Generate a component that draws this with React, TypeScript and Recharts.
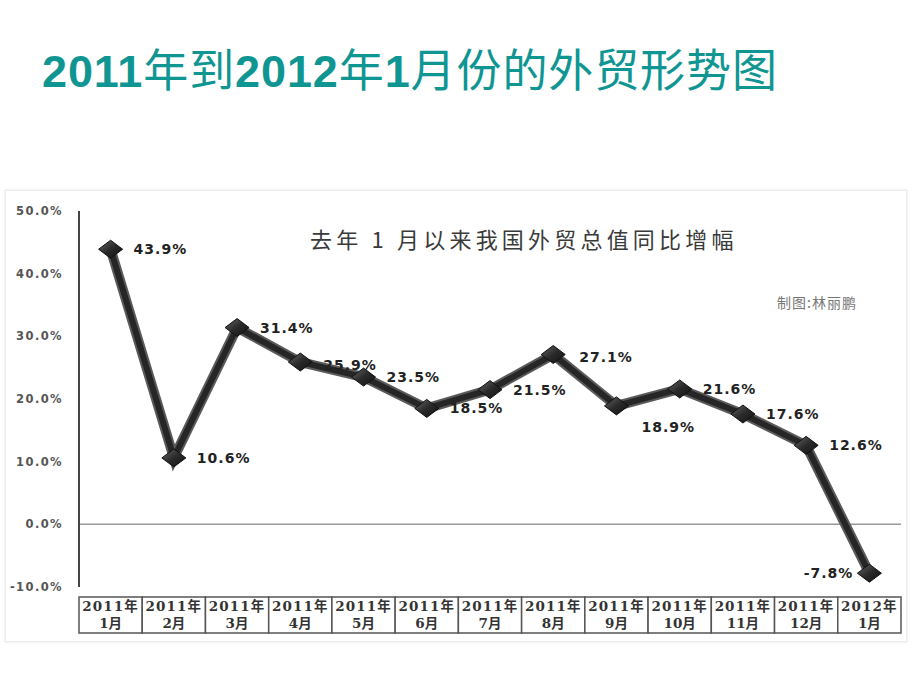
import { LineChart, Line, XAxis, YAxis, ReferenceLine, LabelList } from 'recharts';

const years = ['2011年', '2011年', '2011年', '2011年', '2011年', '2011年', '2011年', '2011年', '2011年', '2011年', '2011年', '2011年', '2012年'];
const months = ['1月', '2月', '3月', '4月', '5月', '6月', '7月', '8月', '9月', '10月', '11月', '12月', '1月'];
const growth = [43.9, 10.6, 31.4, 25.9, 23.5, 18.5, 21.5, 27.1, 18.9, 21.6, 17.6, 12.6, -7.8];
const yTicks = [-10, 0, 10, 20, 30, 40, 50];

const pageTitle = '2011年到2012年1月份的外贸形势图';
const chartTitle = '去年 1 月以来我国外贸总值同比增幅';
const credit = '制图:林丽鹏';

const data = growth.map((v, i) => ({ key: years[i] + months[i], value: v }));

const W = 920;
const H = 690;
const PLOT_LEFT = 79;
const PLOT_RIGHT = 901;
const CELL = (PLOT_RIGHT - PLOT_LEFT) / growth.length;
const X_AXIS_H = 50;

function TitleText({ text }: { text: string }) {
  // digits in bold latin, hanzi in regular weight
  const parts = text.match(/(\d+|\D+)/g) || [];
  return (
    <>
      {parts.map((p, i) =>
        /\d/.test(p) ? (
          <span key={i} style={{ fontFamily: '"Liberation Sans", Arial, sans-serif', fontWeight: 700 }}>{p}</span>
        ) : (
          <span key={i} style={{ fontFamily: '"Noto Sans CJK SC", sans-serif', fontWeight: 400 }}>{p}</span>
        )
      )}
    </>
  );
}

function YTick(props: any) {
  const { x, y, payload } = props;
  return (
    <text x={x - 8} y={y} dy={4} textAnchor="end" fontSize={11.5} fontWeight="bold" fill="#555"
      letterSpacing={1.4} fontFamily='"DejaVu Sans", sans-serif'>
      {payload.value.toFixed(1)}%
    </text>
  );
}

function XTick(props: any) {
  const { x, y, payload } = props;
  const i = payload.index;
  return (
    <g>
      <rect x={x - CELL / 2} y={y} width={CELL} height={36} fill="#fff" stroke="#555" strokeWidth={1.5} />
      <text x={x} y={y + 14} textAnchor="middle" fontSize={13.5} fontWeight="bold" fill="#333" letterSpacing={1.1}
        fontFamily='"DejaVu Serif", "Noto Sans CJK SC", serif'>
        {years[i]}
      </text>
      <text x={x} y={y + 31} textAnchor="middle" fontSize={13.5} fontWeight="bold" fill="#333"
        fontFamily='"DejaVu Serif", "Noto Sans CJK SC", serif'>
        {months[i]}
      </text>
    </g>
  );
}

function Diamond(props: any) {
  const { cx, cy } = props;
  if (cx == null || cy == null) return null;
  return (
    <polygon
      points={`${cx - 12},${cy} ${cx},${cy - 9} ${cx + 12},${cy} ${cx},${cy + 9}`}
      fill="url(#diamondFill)" stroke="#111" strokeWidth={1}
    />
  );
}

function ValueLabel(props: any) {
  const { x, y, value, index } = props;
  let dx = 23;
  let dy = 0;
  let anchor: 'start' | 'end' = 'start';
  if (index === 3) dy = 3;
  if (index === 7) { dx = 26; dy = 2; }
  if (index === 8) { dx = 25; dy = 21; }
  if (index === growth.length - 1) { dx = -16; anchor = 'end'; }
  return (
    <text x={x + dx} y={y + dy} dy={5} textAnchor={anchor} fontSize={14} fontWeight="bold" fill="#222"
      letterSpacing={1} fontFamily='"DejaVu Sans", sans-serif'>
      {value.toFixed(1)}%
    </text>
  );
}

export default function App() {
  return (
    <div style={{ position: 'fixed', left: 0, top: 0, width: W, height: H, background: '#fff', overflow: 'hidden' }}>
      <div style={{ position: 'absolute', left: 42, top: 40, fontSize: 45, lineHeight: '56px', color: '#0f9692', letterSpacing: 0.9, whiteSpace: 'nowrap' }}>
        <TitleText text={pageTitle} />
      </div>
      <div style={{ position: 'absolute', left: 5, top: 190, width: 900, height: 450, border: '1px solid #ececec', boxShadow: '0 0 3px #e4e4e4', background: '#fff' }} />
      <div style={{ position: 'absolute', left: 0, top: 0 }}>
        <LineChart width={W} height={H} data={data}
          margin={{ top: 211, right: W - PLOT_RIGHT, bottom: 103 - X_AXIS_H, left: PLOT_LEFT - 60 }}>
          <defs>
            <linearGradient id="diamondFill" x1="0" y1="0" x2="1" y2="1">
              <stop offset="0%" stopColor="#666" />
              <stop offset="50%" stopColor="#2a2a2a" />
              <stop offset="100%" stopColor="#111" />
            </linearGradient>
          </defs>
          <text x={310} y={248} fontSize={22} fill="#3a3a3a" letterSpacing={4.2}
            fontFamily='"Noto Sans CJK SC", sans-serif'>
            {chartTitle}
          </text>
          <text x={777} y={308} fontSize={14} fill="#777" letterSpacing={1}
            fontFamily='"Noto Sans CJK SC", sans-serif'>
            {credit}
          </text>
          <XAxis dataKey="key" padding={{ left: CELL / 2, right: CELL / 2 }} axisLine={false} tickLine={false}
            tickSize={0} tickMargin={10} interval={0} height={X_AXIS_H} tick={<XTick />} />
          <YAxis type="number" domain={[-10, 50]} ticks={yTicks} width={60} axisLine={{ stroke: '#444', strokeWidth: 2 }}
            tickLine={false} tick={<YTick />} />
          <ReferenceLine y={0} stroke="#999" strokeWidth={1.5} />
          <Line dataKey="value" stroke="#5a5a5a" strokeWidth={10} dot={false} isAnimationActive={false} />
          <Line dataKey="value" stroke="#262626" strokeWidth={6} dot={<Diamond />} activeDot={false} isAnimationActive={false}>
            <LabelList dataKey="value" content={<ValueLabel />} />
          </Line>
        </LineChart>
      </div>
    </div>
  );
}
